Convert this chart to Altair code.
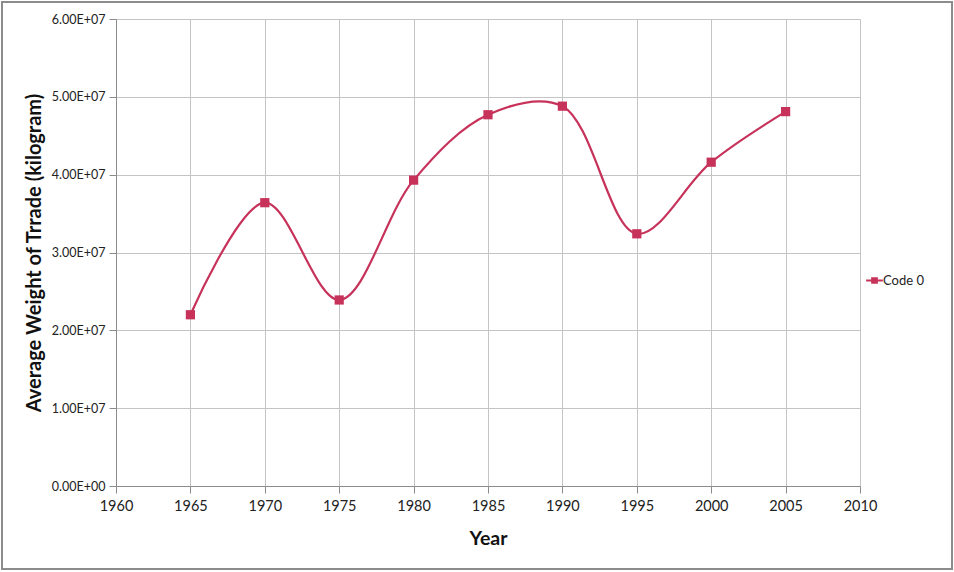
import altair as alt
import pandas as pd

# Average trade weight per survey year
years = [1965, 1970, 1975, 1980, 1985, 1990, 1995, 2000, 2005]
weights = [2.20e7, 3.64e7, 2.39e7, 3.93e7, 4.77e7, 4.88e7, 3.24e7, 4.16e7, 4.81e7]
series = ["Code 0"] * len(years)

x_ticks = list(range(1960, 2011, 5))
y_ticks = [0, 1e7, 2e7, 3e7, 4e7, 5e7, 6e7]

df = pd.DataFrame({"Year": years, "Weight": weights, "Series": series})

RED = "#C7325A"
GRID = "#C4C4C4"
FONT = "Lato"

x_enc = alt.X(
    "Year:Q",
    scale=alt.Scale(domain=[1960, 2010], nice=False, zero=False),
    axis=alt.Axis(
        values=x_ticks, format="d", title="Year", labelFontSize=14.5,
        titleFontSize=19.5, titleFontWeight="bold", labelPadding=6,
        titlePadding=17, tickSize=7, labelFlush=False,
    ),
)
y_enc = alt.Y(
    "Weight:Q",
    scale=alt.Scale(domain=[0, 6e7], nice=False),
    axis=alt.Axis(
        values=y_ticks,
        labelExpr="datum.value == 0 ? '0.00E+00' : format(datum.value / 1e7, '.2f') + 'E+07'",
        title="Average Weight of Trrade (kilogram)", labelFontSize=12.5,
        titleFontSize=20, titleFontWeight="bold", labelPadding=4,
        titlePadding=7, tickSize=7,
    ),
)
color_enc = alt.Color(
    "Series:N",
    scale=alt.Scale(range=[RED]),
    legend=alt.Legend(
        title=None, orient="none", legendX=752, legendY=255,
        symbolType="M-1.6,0H1.6M-0.45,-0.45H0.45V0.45H-0.45Z",
        symbolSize=110, symbolStrokeWidth=2, symbolFillColor=RED,
        symbolStrokeColor=RED, labelFontSize=13, labelOffset=2,
    ),
)

line = alt.Chart(df).mark_line(interpolate="catmull-rom", strokeWidth=2.2).encode(
    x=x_enc, y=y_enc, color=color_enc
)
points = alt.Chart(df).mark_square(size=85, opacity=1, filled=True).encode(
    x="Year:Q", y="Weight:Q", color=alt.Color("Series:N", legend=None)
)
frame = alt.Chart(df).mark_rect(fill=None, stroke="#8C8C8C", strokeWidth=1.5).encode(
    x=alt.value(-114), x2=alt.value(836), y=alt.value(-17), y2=alt.value(550)
)

chart = (
    alt.layer(frame, line, points)
    .properties(
        width=744, height=467,
        autosize=alt.AutoSizeParams(type="none"),
        padding={"left": 116, "top": 19, "right": 94, "bottom": 86},
        background="white",
    )
    .configure_view(stroke=None)
    .configure_axis(
        gridColor=GRID, gridWidth=1, domainColor="#8C8C8C", tickColor="#8C8C8C",
        labelColor="#222222", titleColor="#111111", labelFont=FONT, titleFont=FONT,
    )
    .configure_legend(labelFont=FONT, labelColor="#222222")
)

chart.save("out.html", embed_options={"renderer": "svg", "actions": False})
